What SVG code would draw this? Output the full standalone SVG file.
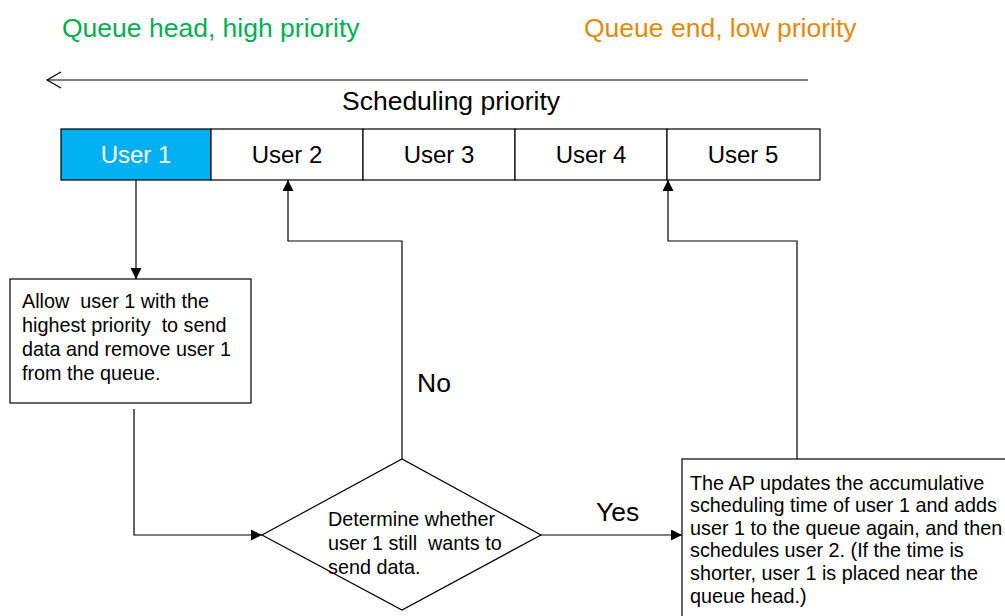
<svg xmlns="http://www.w3.org/2000/svg" width="1005" height="616" viewBox="0 0 1005 616">
  <style>
    text { font-family: "Liberation Sans", Arial, sans-serif; fill: #000; white-space: pre; }
    .big { font-size: 26.5px; }
    .cell { font-size: 24px; text-anchor: middle; }
    .body { font-size: 19.8px; }
    .box { fill: #fff; stroke: #000; stroke-width: 1.2; }
    .wire { fill: none; stroke: #000; stroke-width: 1.2; }
  </style>
  <defs>
    <marker id="arrow" viewBox="0 0 10 10" refX="10" refY="5" markerWidth="11" markerHeight="11" markerUnits="userSpaceOnUse" orient="auto">
      <path d="M0,0 L10,5 L0,10 Z" fill="#000"/>
    </marker>
  </defs>
  <rect width="1005" height="616" fill="#fff"/>

  <!-- headings -->
  <g id="head-label">
    <text class="big" x="62" y="37" style="fill:#00B050">Queue head, high priority</text>
  </g>
  <g id="end-label">
    <text class="big" x="584" y="37" style="fill:#E38A0A">Queue end, low priority</text>
  </g>
  <g id="priority-axis">
    <line x1="47" y1="80" x2="808" y2="80" stroke="#000" stroke-width="1.2"/>
    <polyline points="61,72 47,80 61,88" fill="none" stroke="#000" stroke-width="1.2"/>
    <text class="big" x="451" y="110" text-anchor="middle">Scheduling priority</text>
  </g>

  <!-- queue of users -->
  <g id="user1">
    <rect x="61" y="129" width="150" height="51" fill="#00B0F0" stroke="#000" stroke-width="1.2"/>
    <text class="cell" x="136" y="163" style="fill:#fff">User 1</text>
  </g>
  <g id="user2">
    <rect class="box" x="211" y="129" width="152" height="51"/>
    <text class="cell" x="287" y="163">User 2</text>
  </g>
  <g id="user3">
    <rect class="box" x="363" y="129" width="152" height="51"/>
    <text class="cell" x="439" y="163">User 3</text>
  </g>
  <g id="user4">
    <rect class="box" x="515" y="129" width="152" height="51"/>
    <text class="cell" x="591" y="163">User 4</text>
  </g>
  <g id="user5">
    <rect class="box" x="667" y="129" width="153" height="51"/>
    <text class="cell" x="743" y="163">User 5</text>
  </g>

  <!-- process: send data -->
  <g id="send-box">
    <rect class="box" x="10" y="279" width="241" height="124"/>
    <text class="body" x="22" y="308">Allow  user 1 with the</text>
    <text class="body" x="22" y="332">highest priority  to send</text>
    <text class="body" x="22" y="356">data and remove user 1</text>
    <text class="body" x="22" y="380">from the queue.</text>
  </g>

  <!-- decision -->
  <g id="decision">
    <polygon class="box" points="262,535 402,459 541,535 402,610"/>
    <text class="body" x="328" y="526">Determine whether</text>
    <text class="body" x="328" y="550">user 1 still  wants to</text>
    <text class="body" x="328" y="574">send data.</text>
  </g>

  <!-- process: requeue -->
  <g id="requeue-box">
    <rect class="box" x="682" y="459" width="330" height="170"/>
    <text class="body" x="690" y="490">The AP updates the accumulative</text>
    <text class="body" x="690" y="512">scheduling time of user 1 and adds</text>
    <text class="body" x="690" y="535">user 1 to the queue again, and then</text>
    <text class="body" x="690" y="557">schedules user 2. (If the time is</text>
    <text class="body" x="690" y="580">shorter, user 1 is placed near the</text>
    <text class="body" x="690" y="603">queue head.)</text>
  </g>

  <!-- connectors -->
  <g id="connectors">
    <line class="wire" x1="136" y1="180" x2="136" y2="279" marker-end="url(#arrow)"/>
    <polyline class="wire" points="134,409 134,535 262,535" marker-end="url(#arrow)"/>
    <polyline class="wire" points="402,459 402,241 288,241 288,180" marker-end="url(#arrow)"/>
    <line class="wire" x1="541" y1="535" x2="682" y2="535" marker-end="url(#arrow)"/>
    <polyline class="wire" points="797,459 797,241 668,241 668,180" marker-end="url(#arrow)"/>
    <text class="big" x="417" y="392">No</text>
    <text class="big" x="596" y="521">Yes</text>
  </g>
</svg>
